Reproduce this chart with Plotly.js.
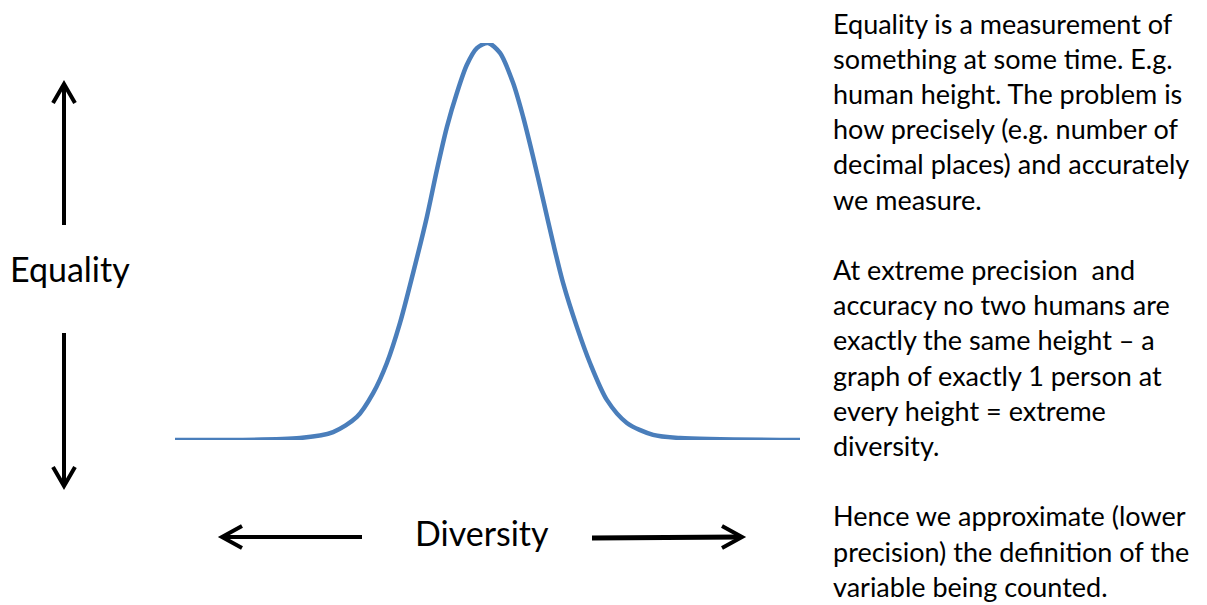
<!DOCTYPE html>
<html>
<head>
<meta charset="utf-8">
<script src="https://cdn.plot.ly/plotly-3.0.1.min.js"></script>
<style>html,body{margin:0;padding:0;background:#fff;}#chart{width:1207px;height:605px;}</style>
</head>
<body>
<div id="chart"></div>
<script>
// Curve (diversity position vs. equality level, 0-100 units)
const diversityX = [0, 20.0, 25.3, 29.1, 31.7, 33.9, 36.0, 38.1, 40.3, 41.9, 43.5, 45.1, 46.7, 48.3, 50.1,
                    52.0, 54.1, 55.7, 57.3, 58.9, 60.5, 62.1, 64.3, 66.4, 69.1, 72.3, 76.5, 80.8, 100];
const equalityY  = [0, 0.5, 2.0, 5.8, 11.8, 19.4, 29.5, 42.1, 56.2, 68.0, 78.8, 87.4, 94.5, 98.7, 100,
                    97.5, 89.9, 81.4, 71.3, 60.5, 49.6, 39.5, 28.5, 19.4, 10.1, 4.3, 1.3, 0.5, 0];

const yAxisLabel = "Equality";
const xAxisLabel = "Diversity";

const noteLines = [
  "Equality is a measurement of",
  "something at some time. E.g.",
  "human height. The problem is",
  "how precisely (e.g. number of",
  "decimal places) and accurately",
  "we measure.",
  "",
  "At extreme precision  and",
  "accuracy no two humans are",
  "exactly the same height \u2013 a",
  "graph of exactly 1 person at",
  "every height = extreme",
  "diversity.",
  "",
  "Hence we approximate (lower",
  "precision) the definition of the",
  "variable being counted."
];

const W = 1207, H = 605;
const px = x => x / W;
const py = y => 1 - y / H;
const FONT = "Lato, 'Open Sans', sans-serif";

const trace = {
  x: diversityX, y: equalityY, type: 'scatter', mode: 'lines',
  line: {color: '#4a7ebb', width: 4.5, shape: 'spline', smoothing: 0.8},
  cliponaxis: false, hoverinfo: 'skip'
};

const annotations = [];
const noteFont = 27;
noteLines.forEach((t, i) => {
  if (!t) return;
  const baseline = 32.5 + 35.2 * i;
  annotations.push({
    xref: 'paper', yref: 'paper', x: px(831), y: py(baseline - 0.387 * noteFont + 1),
    xanchor: 'left', yanchor: 'middle', showarrow: false, text: t,
    font: {family: FONT, size: noteFont, color: '#000'}
  });
});
annotations.push({
  xref: 'paper', yref: 'paper', x: px(8), y: py(281 - 0.387 * 34 + 1),
  xanchor: 'left', yanchor: 'middle', showarrow: false, text: yAxisLabel,
  font: {family: FONT, size: 34, color: '#000'}
});
annotations.push({
  xref: 'paper', yref: 'paper', x: px(482), y: py(547 - 0.387 * 34 - 1),
  xanchor: 'center', yanchor: 'middle', showarrow: false, text: xAxisLabel,
  font: {family: FONT, size: 34, color: '#000'}
});

function pathP(pts) {
  return pts.map((p, i) => (i ? 'L' : 'M') + px(p[0]) + ',' + py(p[1])).join(' ');
}
const arrowLine = {color: '#000', width: 4};
const shapes = [
  // up arrow
  {type: 'path', xref: 'paper', yref: 'paper', path: pathP([[64, 225], [64, 85]]), line: arrowLine},
  {type: 'path', xref: 'paper', yref: 'paper', path: pathP([[53, 103], [64, 84], [75, 103]]), line: arrowLine},
  // down arrow
  {type: 'path', xref: 'paper', yref: 'paper', path: pathP([[64, 333], [64, 485]]), line: arrowLine},
  {type: 'path', xref: 'paper', yref: 'paper', path: pathP([[53, 467], [64, 486], [75, 467]]), line: arrowLine},
  // left arrow
  {type: 'path', xref: 'paper', yref: 'paper', path: pathP([[362, 537], [224, 537]]), line: arrowLine},
  {type: 'path', xref: 'paper', yref: 'paper', path: pathP([[242, 526], [222, 537], [242, 548]]), line: arrowLine},
  // right arrow
  {type: 'path', xref: 'paper', yref: 'paper', path: pathP([[592, 538], [740, 537]]), line: {color: '#000', width: 5}},
  {type: 'path', xref: 'paper', yref: 'paper', path: pathP([[722, 526], [742, 537], [722, 548]]), line: arrowLine}
];

const layout = {
  width: W, height: H,
  margin: {l: 0, r: 0, t: 0, b: 0, pad: 0},
  paper_bgcolor: '#fff', plot_bgcolor: '#fff',
  showlegend: false,
  xaxis: {domain: [175 / W, 800 / W], range: [0, 100], visible: false, fixedrange: true},
  yaxis: {domain: [(H - 440) / H, (H - 43) / H], range: [0, 100], visible: false, fixedrange: true},
  annotations: annotations,
  shapes: shapes
};

Plotly.newPlot('chart', [trace], layout, {displayModeBar: false, staticPlot: true});
</script>
</body>
</html>
